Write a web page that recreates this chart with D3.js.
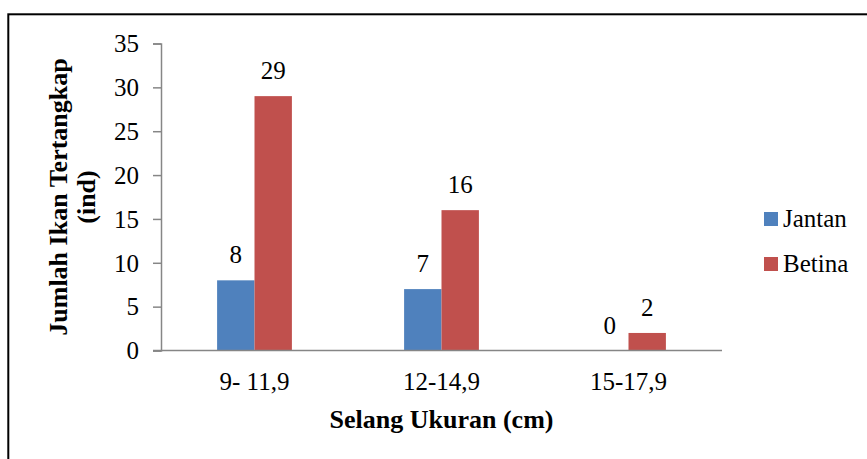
<!DOCTYPE html>
<html>
<head>
<meta charset="utf-8">
<script src="https://cdn.jsdelivr.net/npm/d3@7"></script>
<style>
  html, body { margin: 0; padding: 0; background: #fff; }
  svg { display: block; }
</style>
</head>
<body>
<svg id="chart" width="867" height="459"></svg>
<script>
const categories = ["9- 11,9", "12-14,9", "15-17,9"];
const seriesNames = ["Jantan", "Betina"];
const jantan = [8, 7, 0];
const betina = [29, 16, 2];
const yTicks = [0, 5, 10, 15, 20, 25, 30, 35];
const colors = ["#4F81BD", "#C0504D"];

const FONT = "Liberation Serif";
const svg = d3.select("#chart");
const W = 867, H = 459;
svg.append("rect").attr("width", W).attr("height", H).attr("fill", "#fff");

// outer frame (right/bottom cut off in the reference)
svg.append("rect")
  .attr("x", 8.3).attr("y", 14.3)
  .attr("width", 1000).attr("height", 1000)
  .attr("fill", "none").attr("stroke", "#000").attr("stroke-width", 2);

const plot = { left: 161, right: 722, top: 43.5, bottom: 350.5 };

const x0 = d3.scaleBand().domain(categories)
  .range([plot.left, plot.right]).paddingInner(0.6).paddingOuter(0.3);
const x1 = d3.scaleBand().domain(seriesNames).range([0, x0.bandwidth()]);
const y = d3.scaleLinear().domain([0, 35]).range([plot.bottom, plot.top]);

const data = categories.map((c, i) => ({ cat: c, values: [jantan[i], betina[i]] }));

// bars
const g = svg.append("g");
data.forEach(d => {
  d.values.forEach((v, si) => {
    const bx = x0(d.cat) + x1(seriesNames[si]);
    g.append("rect")
      .attr("x", bx).attr("width", x1.bandwidth())
      .attr("y", y(v)).attr("height", y(0) - y(v))
      .attr("fill", colors[si]);
    g.append("text")
      .attr("x", bx + x1.bandwidth() / 2)
      .attr("y", y(v) - 17)
      .attr("text-anchor", "middle")
      .attr("font-family", FONT)
      .attr("font-size", 25)
      .attr("fill", "#000")
      .text(v);
  });
});

// y axis
const yAxis = d3.axisLeft(y).tickValues(yTicks).tickSize(8).tickPadding(14);
const ya = svg.append("g").attr("transform", `translate(${plot.left},0)`).call(yAxis);
ya.attr("font-family", FONT).attr("font-size", 25);
ya.select(".domain").attr("stroke", "#868686").attr("stroke-width", 1.5);
ya.selectAll(".tick line").attr("stroke", "#868686").attr("stroke-width", 1.5);
ya.selectAll(".tick text").attr("font-family", FONT).attr("font-size", 25)
  .attr("fill", "#000").attr("dy", "0.33em");

// x axis
const xAxis = d3.axisBottom(x0).tickSize(0).tickPadding(28);
const xa = svg.append("g").attr("transform", `translate(0,${plot.bottom})`).call(xAxis);
xa.attr("font-family", FONT).attr("font-size", 25);
xa.select(".domain").remove();
xa.append("line").attr("x1", plot.left - 8).attr("x2", plot.right)
  .attr("y1", 0).attr("y2", 0).attr("stroke", "#868686").attr("stroke-width", 1.5);
xa.selectAll(".tick text").attr("font-family", FONT).attr("font-size", 25)
  .attr("fill", "#000").attr("dy", "0.45em");

// axis titles
svg.append("text")
  .attr("x", (plot.left + plot.right) / 2).attr("y", 428)
  .attr("text-anchor", "middle")
  .attr("font-family", FONT).attr("font-size", 26).attr("font-weight", "bold")
  .attr("fill", "#000")
  .text("Selang Ukuran (cm)");

const yt = svg.append("text")
  .attr("transform", `translate(0,${(plot.top + plot.bottom) / 2}) rotate(-90)`)
  .attr("text-anchor", "middle")
  .attr("font-family", FONT).attr("font-size", 26).attr("font-weight", "bold")
  .attr("fill", "#000");
yt.append("tspan").attr("x", 0).attr("y", 67).text("Jumlah Ikan Tertangkap");
yt.append("tspan").attr("x", 0).attr("y", 95).text("(ind)");

// legend
const legendY = [212, 257];
seriesNames.forEach((s, i) => {
  svg.append("rect").attr("x", 764).attr("y", legendY[i])
    .attr("width", 14).attr("height", 14).attr("fill", colors[i]);
  svg.append("text").attr("x", 783).attr("y", legendY[i] + 14.5)
    .attr("font-family", FONT).attr("font-size", 25).attr("fill", "#000")
    .text(s);
});
</script>
</body>
</html>
